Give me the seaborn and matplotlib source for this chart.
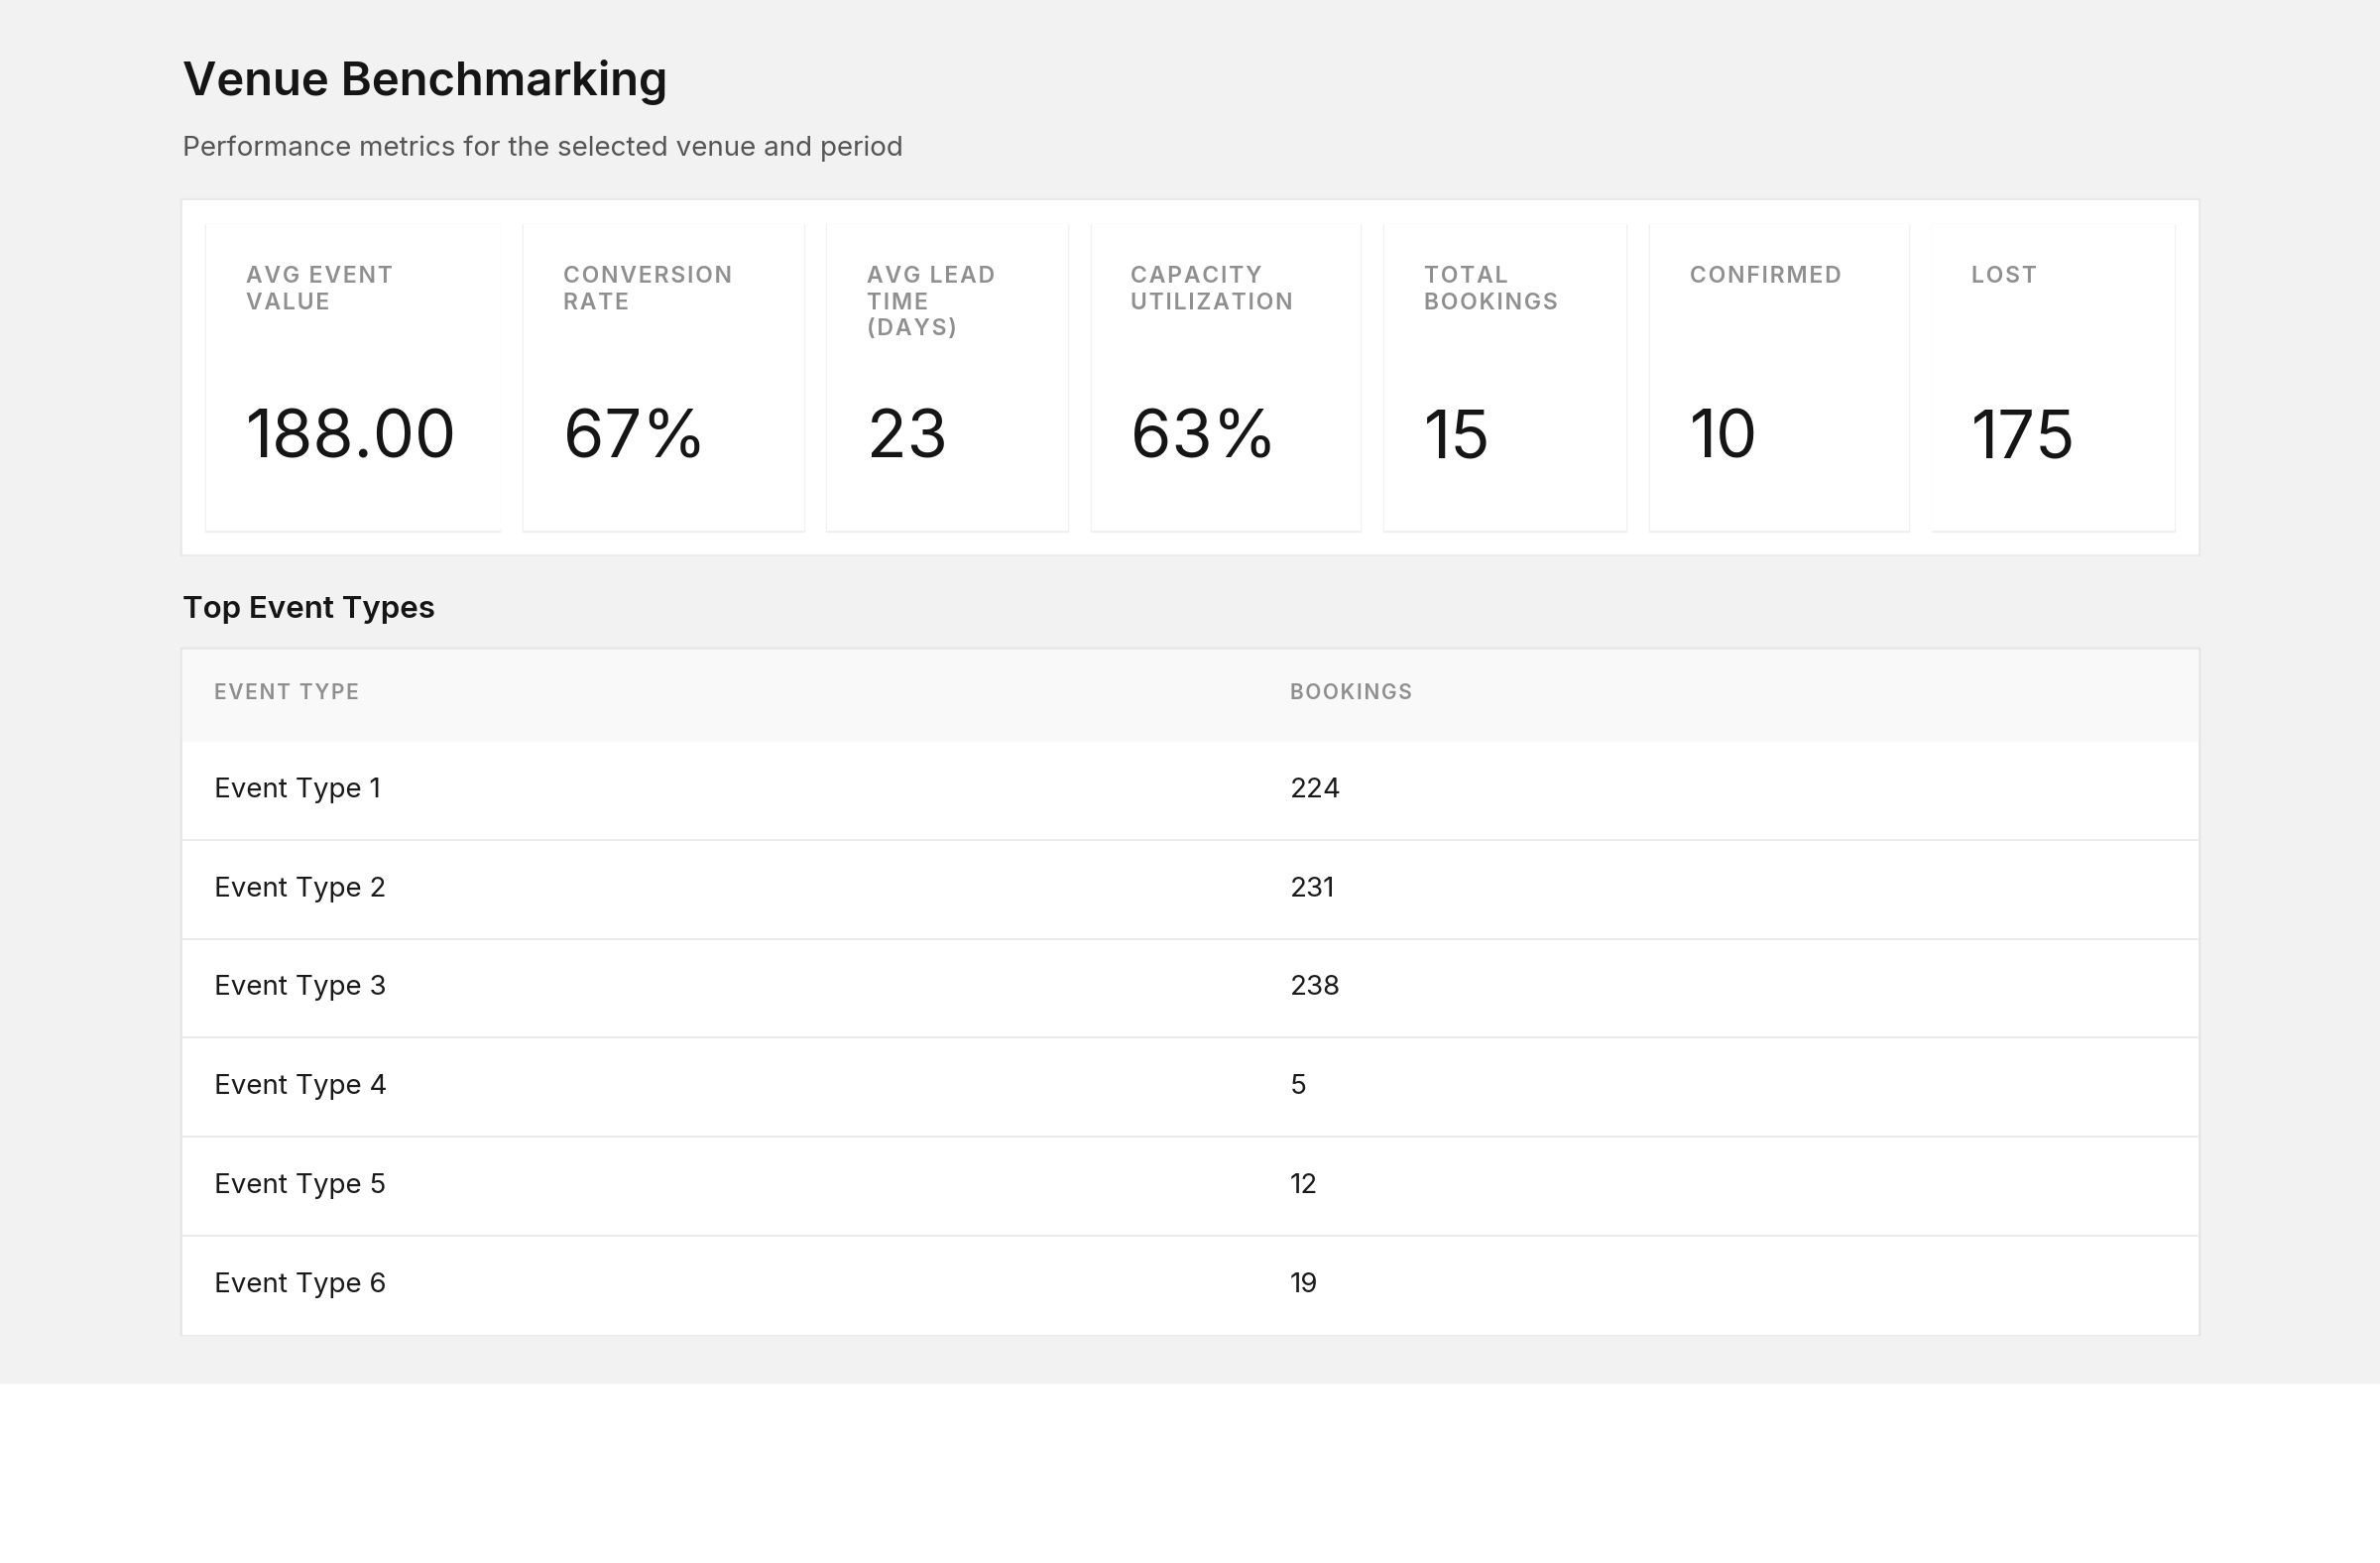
import matplotlib
matplotlib.use("Agg")
import matplotlib.pyplot as plt
import seaborn as sns
from matplotlib.patches import Rectangle

sns.set_theme(style="white")
plt.rcParams['font.family'] = ['Inter', 'DejaVu Sans']

title = "Venue Benchmarking"
subtitle = "Performance metrics for the selected venue and period"
kpi_labels = ["AVG EVENT\nVALUE", "CONVERSION\nRATE", "AVG LEAD\nTIME\n(DAYS)",
              "CAPACITY\nUTILIZATION", "TOTAL\nBOOKINGS", "CONFIRMED", "LOST"]
kpi_values = ["188.00", "67%", "23", "63%", "15", "10", "175"]
event_types = ["Event Type 1", "Event Type 2", "Event Type 3",
               "Event Type 4", "Event Type 5", "Event Type 6"]
bookings = [224, 231, 238, 5, 12, 19]


def spaced(s):
    return "\n".join("\u200a".join(line) for line in s.split("\n"))


W, H = 1568, 1030
fig = plt.figure(figsize=(24, 15.76), dpi=100)
ax = fig.add_axes([0, 0, 1, 1])
ax.set_xlim(0, W); ax.set_ylim(H, 0); ax.axis("off")
fig.patch.set_facecolor("white")

ax.add_patch(Rectangle((0, 0), W, 911, color="#f2f2f2", zorder=0))
ax.text(120, 54, title, fontsize=34, fontweight="semibold", color="#151515", va="center")
ax.text(120, 98, subtitle, fontsize=20, color="#555555", va="center")

# KPI panel
ax.add_patch(Rectangle((119, 131), 1330, 235, color="#e8e8e8", zorder=1))
ax.add_patch(Rectangle((120, 132), 1328, 233, color="white", zorder=1))
card_x = [(136, 329), (345, 529), (545, 703), (719, 896), (912, 1071), (1087, 1257), (1273, 1432)]
for (x0, x1), lab, val in zip(card_x, kpi_labels, kpi_values):
    ax.add_patch(Rectangle((x0 - 0.6, 147.5), x1 - x0 + 1.2, 202.5, color="#efefef", zorder=2))
    ax.add_patch(Rectangle((x0, 148), x1 - x0, 201, color="white", zorder=2))
    ax.text(x0 + 26, 175, spaced(lab), fontsize=16.5, fontweight="semibold", color="#8f8f8f",
            va="top", linespacing=1.28, zorder=3)
    ax.text(x0 + 26, 290, val, fontsize=48, color="#151515", va="center", zorder=3)

ax.text(120, 402, "Top Event Types", fontsize=22.5, fontweight="semibold", color="#151515", va="center")

# table
ax.add_patch(Rectangle((119, 427), 1330, 453, color="#e4e4e4", zorder=1))
ax.add_patch(Rectangle((120, 428), 1328, 451, color="white", zorder=1))
ax.add_patch(Rectangle((120, 428), 1328, 60, color="#f9f9f9", zorder=2))
ax.text(141, 457, spaced("EVENT TYPE"), fontsize=15, fontweight="semibold", color="#8f8f8f", va="center", zorder=3)
ax.text(850, 457, spaced("BOOKINGS"), fontsize=15, fontweight="semibold", color="#8f8f8f", va="center", zorder=3)
row_h = 65.3
for i, (et, b) in enumerate(zip(event_types, bookings)):
    yc = 488 + row_h * i + row_h / 2
    ax.text(141, yc, et, fontsize=20, color="#1a1a1a", va="center", zorder=3)
    ax.text(850, yc, str(b), fontsize=20, color="#1a1a1a", va="center", zorder=3)
    if i > 0:
        ax.plot([120, 1448], [488 + row_h * i] * 2, color="#e8e8e8", lw=1.2, zorder=3)

fig.savefig("out.png", dpi=100, facecolor="white")
